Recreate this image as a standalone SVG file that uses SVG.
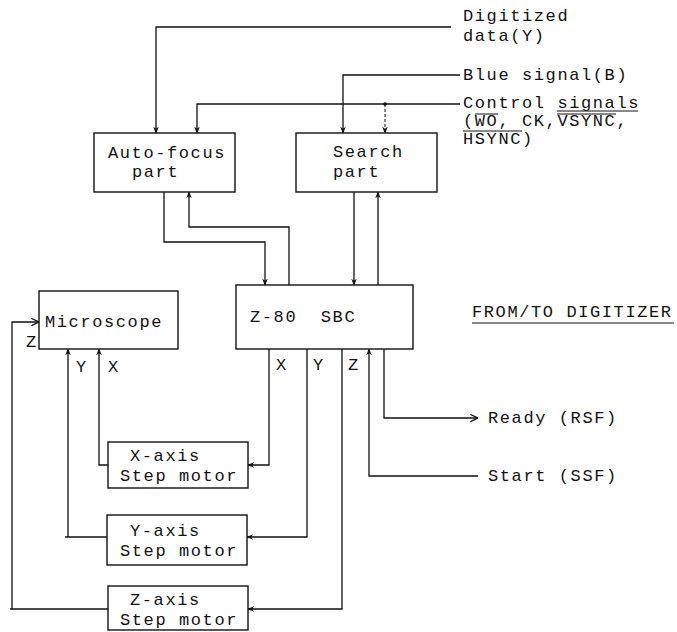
<svg xmlns="http://www.w3.org/2000/svg" width="677" height="632" viewBox="0 0 677 632">
<defs>
<marker id="arr" viewBox="0 0 10 10" refX="9" refY="5" markerWidth="7" markerHeight="7" orient="auto" markerUnits="userSpaceOnUse"><path d="M0,1 L10,5 L0,9 L3,5 Z" fill="#111"/></marker>
<marker id="open" viewBox="0 0 10 10" refX="9.5" refY="5" markerWidth="9" markerHeight="9" orient="auto" markerUnits="userSpaceOnUse"><path d="M1,1 L9.5,5 L1,9" fill="none" stroke="#111" stroke-width="1.3"/></marker>
<style>
text{font-family:"Liberation Mono","DejaVu Sans Mono",monospace;font-size:17px;letter-spacing:1.6px;fill:#111}
.box{fill:#fff;stroke:#111;stroke-width:1.4}
.c{fill:none;stroke:#111;stroke-width:1.3}
.d{fill:none;stroke:#111;stroke-width:1;stroke-dasharray:3 2}
.ol{stroke:#111;stroke-width:1}
</style>
</defs>
<rect width="677" height="632" fill="#fff"/>
<g id="connectors">
<path class="c" d="M451,27 H156 V133" marker-end="url(#arr)"/>
<path class="c" d="M460,75 H343 V133" marker-end="url(#arr)"/>
<path class="c" d="M460,104 H197 V133" marker-end="url(#arr)"/>
<circle cx="385" cy="104" r="1.8" fill="#111"/>
<path class="d" d="M385,104 V133" marker-end="url(#arr)"/>
<path class="c" d="M164,192 V242 H265 V285" marker-end="url(#arr)"/>
<path class="c" d="M289,285 V227 H189 V192" marker-end="url(#arr)"/>
<path class="c" d="M354,192 V285" marker-end="url(#arr)"/>
<path class="c" d="M378,285 V192" marker-end="url(#arr)"/>
<path class="c" d="M12,609 V322 H39" marker-end="url(#open)"/>
<path class="c" d="M107,537 H65"/>
<path class="c" d="M68,537 V349" marker-end="url(#arr)"/>
<path class="c" d="M108,465 H99 V349" marker-end="url(#arr)"/>
<path class="c" d="M269,349 V465 H248" marker-end="url(#arr)"/>
<path class="c" d="M307,349 V537 H247" marker-end="url(#arr)"/>
<path class="c" d="M342,349 V609 H248" marker-end="url(#arr)"/>
<path class="c" d="M10,609 H108"/>
<path class="c" d="M478,476 H369 V349" marker-end="url(#arr)"/>
<path class="c" d="M384,349 V418 H478" marker-end="url(#open)"/>
<text x="26" y="347">Z</text>
<text x="76" y="372">Y</text>
<text x="108" y="372">X</text>
<text x="276" y="370">X</text>
<text x="313" y="370">Y</text>
<text x="348" y="370">Z</text>
</g>
<g id="labels">
<text x="463" y="21">Digitized</text>
<text x="463" y="41">data(Y)</text>
<text x="463" y="80">Blue signal(B)</text>
<text x="463" y="108">Control signals</text>
<text x="463" y="126">(WO, CK,VSYNC,</text>
<text x="463" y="144">HSYNC)</text>
<line class="ol" x1="557" y1="111" x2="638" y2="111"/>
<line class="ol" x1="475" y1="114" x2="498" y2="114"/>
<line class="ol" x1="557" y1="114" x2="616" y2="114"/>
<line class="ol" x1="463" y1="131" x2="522" y2="131"/>
<text x="472" y="317">FROM/TO DIGITIZER</text>
<line class="ol" x1="472" y1="323" x2="674" y2="323" stroke-width="1.4"/>
<text x="488" y="423">Ready (RSF)</text>
<text x="488" y="481">Start (SSF)</text>
</g>
<g id="autofocus"><rect class="box" x="94" y="133" width="141" height="59"/><text x="108" y="158">Auto-focus</text><text x="132" y="177">part</text></g>
<g id="search"><rect class="box" x="296" y="133" width="141" height="59"/><text x="333" y="157">Search</text><text x="333" y="177">part</text></g>
<g id="sbc"><rect class="box" x="236" y="285" width="177" height="64"/><text x="250" y="322" xml:space="preserve">Z-80  SBC</text></g>
<g id="microscope"><rect class="box" x="39" y="291" width="139" height="58"/><text x="45" y="327">Microscope</text></g>
<g id="xmotor"><rect class="box" x="108" y="442" width="140" height="46"/><text x="130" y="461">X-axis</text><text x="120" y="481">Step motor</text></g>
<g id="ymotor"><rect class="box" x="107" y="515" width="140" height="50"/><text x="130" y="536">Y-axis</text><text x="120" y="556">Step motor</text></g>
<g id="zmotor"><rect class="box" x="108" y="586" width="140" height="44"/><text x="130" y="605">Z-axis</text><text x="120" y="625">Step motor</text></g>
</svg>
